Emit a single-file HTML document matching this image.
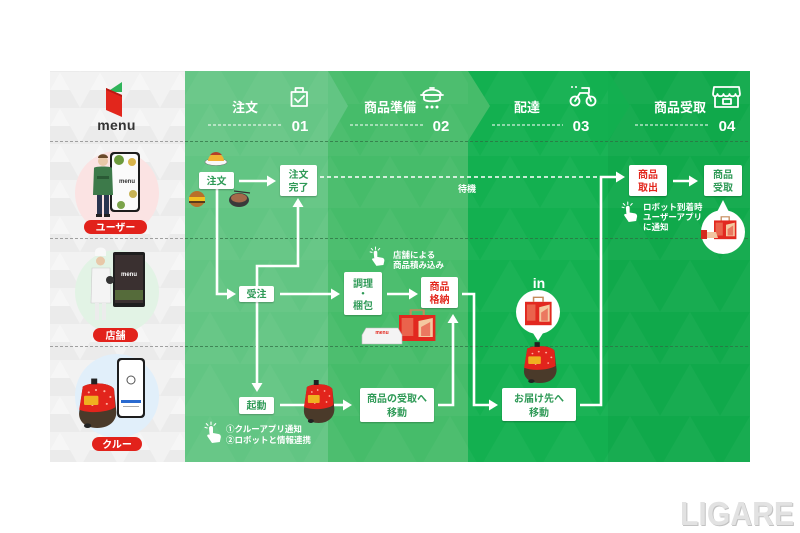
<!DOCTYPE html>
<html><head><meta charset="utf-8">
<style>
html,body{margin:0;padding:0;background:#fff;}
body{width:800px;height:533px;overflow:hidden;}
svg{display:block;}
text{font-family:"Liberation Sans","Noto Sans CJK JP",sans-serif;font-weight:bold;}
</style></head><body>
<svg width="800" height="533" viewBox="0 0 800 533" xmlns="http://www.w3.org/2000/svg">
<defs>
  <pattern id="triL" width="40" height="36" patternUnits="userSpaceOnUse">
    <rect width="40" height="36" fill="#f2f2f2"/>
    <polygon points="0,36 20,0 40,36" fill="#ebebeb"/>
    <polygon points="20,0 30,18 10,18" fill="#f6f6f6"/>
  </pattern>
  <pattern id="triG" width="60" height="52" patternUnits="userSpaceOnUse">
    <polygon points="0,52 30,0 60,52" fill="#ffffff" opacity="0.035"/>
  </pattern>
  <filter id="sh" x="-20%" y="-20%" width="140%" height="150%">
    <feDropShadow dx="0" dy="1" stdDeviation="0.8" flood-color="#000" flood-opacity="0.25"/>
  </filter>
  <g id="hand">
    <path d="M5 4 C6.5 4 7 5 7 6 L7 11 L12.5 12 C14.5 12.5 15 14 14.8 15.5 L13.8 20 L6 21 L1.5 14.5 C0.6 13.3 2 11.8 3.6 12.8 L3 6 C3 5 4 4 5 4 Z" fill="#fff"/>
    <path d="M5 2.6 V0 M2 3.4 L0.3 1.6 M8 3.4 L9.7 1.6 M1.2 6 L-1 5.4" stroke="#fff" stroke-width="1.1" stroke-linecap="round"/>
  </g>
  <g id="bag">
    <path d="M9 2 V-3 H19 V2" fill="none" stroke="#c58a5a" stroke-width="1.6"/>
    <rect x="0" y="2" width="28" height="26" fill="#e2281f"/>
    <rect x="2" y="5" width="9" height="18" fill="#f08a6a" opacity="0.6"/>
    <polygon points="15,8 26,5 26,24 15,24" fill="#f4c9a0"/>
    <polygon points="17,14 24,9 24,23 17,23" fill="#e2281f" opacity="0.5"/>
  </g>
  <g id="robot">
    <path d="M4 4 C10 0 26 0 30 6 L32 26 C32 34 26 40 16 40 C6 40 0 34 1 26 Z" fill="#4a3a2a"/>
    <path d="M4 4 C10 0 26 0 30 6 L31 22 C26 26 10 28 1 24 Z" fill="#e2241c"/>
    <circle cx="9" cy="9" r="0.9" fill="#ffb0a0"/><circle cx="15" cy="7" r="0.9" fill="#ffb0a0"/><circle cx="22" cy="8" r="0.9" fill="#ffb0a0"/>
    <circle cx="27" cy="13" r="0.9" fill="#ffb0a0"/><circle cx="12" cy="20" r="0.9" fill="#ffb0a0"/><circle cx="24" cy="19" r="0.9" fill="#ffb0a0"/>
    <rect x="5" y="12" width="12" height="8" rx="1" fill="#f0b020"/>
    <rect x="11" y="-3" width="5" height="5" fill="#222"/>
    <ellipse cx="8" cy="38" rx="3" ry="2" fill="#222"/>
  </g>
</defs>

<!-- columns -->
<rect x="50" y="71" width="135" height="391" fill="url(#triL)"/>
<rect x="185" y="71" width="143" height="391" fill="#62c583"/>
<rect x="328" y="71" width="140" height="391" fill="#46bc6a"/>
<rect x="468" y="71" width="140" height="391" fill="#13b050"/>
<rect x="608" y="71" width="142" height="391" fill="#10a94b"/>
<rect x="185" y="71" width="565" height="391" fill="url(#triG)"/>
<!-- header chevrons -->
<rect x="185" y="71" width="143" height="70" fill="#ffffff" opacity="0.03"/>
<polygon points="328,71 348,106 328,141" fill="#62c583"/>
<polygon points="468,71 490,106 468,141" fill="#46bc6a"/>
<polygon points="608,71 630,106 608,141" fill="#13b050" opacity="0.8"/>

<!-- separators -->
<g stroke-width="1" stroke-dasharray="3,2">
  <line x1="50" y1="141.5" x2="185" y2="141.5" stroke="#a0a0a0"/>
  <line x1="185" y1="141.5" x2="750" y2="141.5" stroke="#2f6b42" opacity="0.7"/>
  <line x1="50" y1="238.5" x2="185" y2="238.5" stroke="#a0a0a0"/>
  <line x1="185" y1="238.5" x2="750" y2="238.5" stroke="#2f6b42" opacity="0.7"/>
  <line x1="50" y1="346.5" x2="185" y2="346.5" stroke="#a0a0a0"/>
  <line x1="185" y1="346.5" x2="750" y2="346.5" stroke="#2f6b42" opacity="0.7"/>
</g>

<!-- logo -->
<polygon points="107,92 122,82 122,92" fill="#2fb45a"/>
<polygon points="106,88 122,95 122,117 106,110" fill="#e2261c"/>
<polygon points="106,88 122,95 122,97 106,90" fill="#b81a12"/>
<text x="116.5" y="130" font-size="14" fill="#333" text-anchor="middle" font-family="Liberation Sans, sans-serif" letter-spacing="0.3">menu</text>

<!-- header texts -->
<g fill="#fff">
  <text x="245" y="112" font-size="13" text-anchor="middle">注文</text>
  <text x="390" y="112" font-size="13" text-anchor="middle">商品準備</text>
  <text x="527" y="112" font-size="13" text-anchor="middle">配達</text>
  <text x="680" y="112" font-size="13" text-anchor="middle">商品受取</text>
  <text x="300" y="131" font-size="15" text-anchor="middle">01</text>
  <text x="441" y="131" font-size="15" text-anchor="middle">02</text>
  <text x="581" y="131" font-size="15" text-anchor="middle">03</text>
  <text x="727" y="131" font-size="15" text-anchor="middle">04</text>
</g>
<g stroke="#fff" stroke-width="1" stroke-dasharray="3,2">
  <line x1="208" y1="125" x2="283" y2="125"/>
  <line x1="350" y1="125" x2="423" y2="125"/>
  <line x1="492" y1="125" x2="563" y2="125"/>
  <line x1="635" y1="125" x2="708" y2="125"/>
</g>
<!-- header icons -->
<g fill="none" stroke="#fff" stroke-width="1.8" stroke-linejoin="round" stroke-linecap="round">
  <rect x="291.5" y="92" width="15.5" height="14"/>
  <path d="M295.5 92 V88 H303 V92"/>
  <path d="M295 99 L298 102 L304 96"/>
  <!-- pot -->
  <path d="M423 95 C423 88 441 88 441 95 Z"/>
  <path d="M430 88 H434"/>
  <path d="M424 95 V99 C424 102 440 102 440 99 V95"/>
  <path d="M421 95 H443"/>
  <!-- bike -->
  <circle cx="575" cy="101" r="4.5"/>
  <circle cx="591" cy="101" r="4.5"/>
  <path d="M575 101 L580 93 L588 93 L591 101"/>
  <path d="M582 88 H589 V93"/>
  <!-- store -->
  <path d="M714 87 H739 L740 94 C740 97 736 97 735.5 94 C735 97 730 97 729.5 94 C729 97 724 97 723.5 94 C723 97 718 97 717.5 94 C717 97 713 97 713 94 Z"/>
  <path d="M715 97 V107 H738 V97"/>
  <rect x="723" y="99" width="8" height="5"/>
</g>
<g fill="#fff">
  <circle cx="427" cy="107" r="1.5"/><circle cx="432" cy="107" r="1.5"/><circle cx="437" cy="107" r="1.5"/>
  <circle cx="572" cy="87" r="1"/><circle cx="576" cy="87" r="1"/>
</g>

<!-- left lane illustrations -->
<circle cx="117" cy="193" r="42" fill="#fbe3e3"/>
<circle cx="117" cy="292" r="42" fill="#e2f3e5"/>
<circle cx="117" cy="396" r="42" fill="#e1effa"/>
<!-- user -->
<rect x="110" y="152" width="30" height="60" rx="4" fill="#1d1d1d"/>
<rect x="112" y="154" width="26" height="56" rx="3" fill="#fbfbfb"/>
<circle cx="119" cy="160" r="5" fill="#6c9a3c"/><circle cx="132" cy="162" r="4" fill="#d9b44a"/>
<circle cx="133" cy="194" r="4" fill="#c7b255"/><circle cx="121" cy="205" r="4" fill="#7aa34a"/>
<text x="127" y="183" font-size="6" fill="#333" text-anchor="middle" font-family="Liberation Sans, sans-serif">menu</text>
<circle cx="103" cy="161" r="5" fill="#e8c8a8"/>
<path d="M98 158 C98 153 108 153 108 158 Z" fill="#6a4a2a"/>
<path d="M94 168 C94 166 112 166 112 168 L113 195 H93 Z" fill="#3d7a4a"/>
<rect x="97" y="176" width="12" height="3" fill="#2a5a35"/>
<rect x="97" y="195" width="5" height="20" fill="#2a3550"/><rect x="104" y="195" width="5" height="20" fill="#2a3550"/>
<rect x="96" y="214" width="6" height="3" fill="#222"/><rect x="104" y="214" width="6" height="3" fill="#222"/>
<rect x="84" y="220" width="63" height="14" rx="7" fill="#e2221b"/>
<text x="115.5" y="231" font-size="10" fill="#fff" text-anchor="middle">ユーザー</text>
<!-- store -->
<rect x="113" y="252" width="32" height="55" rx="2" fill="#1e1e1e"/>
<rect x="115" y="255" width="28" height="48" fill="#3a3030"/>
<rect x="115" y="290" width="28" height="10" fill="#556b3a"/>
<text x="129" y="276" font-size="6" fill="#fff" text-anchor="middle" font-family="Liberation Sans, sans-serif">menu</text>
<path d="M95 252 C95 246 106 246 106 252 V256 H95 Z" fill="#f8f8f8"/>
<circle cx="100.5" cy="261" r="4.5" fill="#e8c8a8"/>
<path d="M92 268 H110 L111 303 H91 Z" fill="#f4f4f4" stroke="#ccc" stroke-width="0.6"/>
<rect x="95" y="303" width="4" height="17" fill="#ececec"/><rect x="102" y="303" width="4" height="17" fill="#ececec"/>
<circle cx="110" cy="280" r="4" fill="#333"/>
<rect x="93" y="328" width="45" height="14" rx="7" fill="#e2221b"/>
<text x="115.5" y="339" font-size="10" fill="#fff" text-anchor="middle">店舗</text>
<!-- crew -->
<rect x="117" y="358" width="28" height="60" rx="4" fill="#1d1d1d"/>
<rect x="119" y="360" width="24" height="56" rx="3" fill="#fff"/>
<circle cx="131" cy="380" r="4" fill="none" stroke="#555" stroke-width="1"/>
<rect x="121" y="400" width="20" height="3" fill="#2a6ad0"/>
<rect x="123" y="406" width="16" height="1" fill="#aaa"/>
<use href="#robot" transform="translate(78,382) scale(1.2,1.15)"/>
<rect x="92" y="437" width="50" height="14" rx="7" fill="#e2221b"/>
<text x="117" y="448" font-size="10" fill="#fff" text-anchor="middle">クルー</text>

<!-- food icons -->
<ellipse cx="216" cy="162" rx="11" ry="3.5" fill="#f8f8f8" stroke="#777" stroke-width="0.6"/>
<path d="M208 161 C208 151 224 151 224 161 Z" fill="#f1b232"/>
<path d="M210 155 C213 151 219 151 222 155 Z" fill="#b3402a"/>
<circle cx="197" cy="199" r="8" fill="#b8702a"/>
<rect x="189" y="197" width="16" height="4" fill="#f2c020"/>
<rect x="189" y="201" width="16" height="2" fill="#5a3a1a"/>
<ellipse cx="239" cy="200" rx="10" ry="7" fill="#3a3a3a"/>
<ellipse cx="239" cy="198" rx="8" ry="4.5" fill="#a46a4a"/>
<line x1="234" y1="191" x2="250" y2="193" stroke="#333" stroke-width="1.2"/>

<!-- dashed wait line -->
<line x1="320" y1="177" x2="601" y2="177" stroke="#fff" stroke-width="1.5" stroke-dasharray="4,3"/>
<text x="467" y="192" font-size="9" fill="#fff" text-anchor="middle">待機</text>

<!-- connectors -->
<g fill="none" stroke="#fff" stroke-width="2.6" stroke-linejoin="miter">
  <path d="M239 181 H268"/>
  <path d="M217 189 V294 H228"/>
  <path d="M257 286 V266 H298 V206"/>
  <path d="M280 294 H332"/>
  <path d="M387 294 H410"/>
  <path d="M462 294 H474 V405 H490"/>
  <path d="M580 405 H601 V177 H617"/>
  <path d="M673 181 H690"/>
  <path d="M257 302 V384"/>
  <path d="M280 405 H306"/>
  <path d="M334 405 H344"/>
  <path d="M438 405 H453 V322"/>
</g>
<g fill="#fff">
  <polygon points="267,175.5 276,181 267,186.5"/>
  <polygon points="227,288.5 236,294 227,299.5"/>
  <polygon points="292.5,207 298,198 303.5,207"/>
  <polygon points="331,288.5 340,294 331,299.5"/>
  <polygon points="409,288.5 418,294 409,299.5"/>
  <polygon points="489,399.5 498,405 489,410.5"/>
  <polygon points="616,171.5 625,177 616,182.5"/>
  <polygon points="689,175.5 698,181 689,186.5"/>
  <polygon points="251.5,383 257,392 262.5,383"/>
  <polygon points="343,399.5 352,405 343,410.5"/>
  <polygon points="447.5,323 453,314 458.5,323"/>
</g>

<!-- robots in lanes -->
<use href="#robot" transform="translate(303,383) scale(0.98,1.0)"/>
<use href="#robot" transform="translate(523,345) scale(1.05,0.95)"/>

<!-- bubble in delivery -->
<polygon points="531,330 545,330 538,341" fill="#fff"/>
<circle cx="538" cy="312" r="22" fill="#fff"/>
<use href="#bag" transform="translate(525,300) scale(0.95,0.9)"/>
<text x="539" y="288" font-size="14" fill="#fff" text-anchor="middle" font-family="Liberation Sans, sans-serif" font-weight="normal">in</text>

<!-- bag + box under cooking -->
<use href="#bag" transform="translate(399,313) scale(1.3,1.0)"/>
<path d="M362 335 L366 328 H398 L402 335 V344 H362 Z" fill="#f4f4f4" stroke="#bbb" stroke-width="0.6"/>
<text x="382" y="334" font-size="5" fill="#e2261c" text-anchor="middle" font-family="Liberation Sans, sans-serif">menu</text>

<!-- bubble in pickup -->
<polygon points="717,212 729,212 723,200" fill="#fff"/>
<circle cx="723" cy="232" r="22" fill="#fff"/>
<use href="#bag" transform="translate(714,219) scale(0.8,0.72)"/>
<path d="M701 232 H716 L718 238 H701 Z" fill="#f2c4a0"/>
<rect x="701" y="230" width="6" height="9" fill="#d62a1e"/>

<!-- hands + notes -->
<use href="#hand" transform="translate(371,247) scale(0.9)"/>
<text x="393" y="258" font-size="8.5" fill="#fff">店舗による</text>
<text x="393" y="268" font-size="8.5" fill="#fff">商品積み込み</text>
<use href="#hand" transform="translate(623,202) scale(0.95)"/>
<text x="643" y="210" font-size="8.5" fill="#fff">ロボット到着時</text>
<text x="643" y="220" font-size="8.5" fill="#fff">ユーザーアプリ</text>
<text x="643" y="230" font-size="8.5" fill="#fff">に通知</text>
<use href="#hand" transform="translate(206,422) scale(1)"/>
<text x="226" y="432" font-size="8.5" fill="#fff">①クルーアプリ通知</text>
<text x="226" y="443" font-size="8.5" fill="#fff">②ロボットと情報連携</text>

<!-- nodes -->
<g filter="url(#sh)" fill="#fff">
  <rect x="199" y="172" width="35" height="17" rx="2"/>
  <rect x="280" y="165" width="37" height="31" rx="2"/>
  <rect x="239" y="286" width="35" height="16" rx="2"/>
  <rect x="344" y="272" width="38" height="43" rx="2"/>
  <rect x="421" y="277" width="37" height="31" rx="2"/>
  <rect x="239" y="397" width="35" height="17" rx="2"/>
  <rect x="360" y="388" width="74" height="34" rx="2"/>
  <rect x="502" y="388" width="74" height="33" rx="2"/>
  <rect x="629" y="165" width="38" height="31" rx="2"/>
  <rect x="704" y="165" width="38" height="31" rx="2"/>
</g>
<g font-size="10" fill="#2f9a57" text-anchor="middle">
  <text x="216.5" y="184.5">注文</text>
  <text x="298.5" y="178">注文</text>
  <text x="298.5" y="191">完了</text>
  <text x="256.5" y="297.5">受注</text>
  <text x="363" y="287">調理</text>
  <text x="363" y="297">・</text>
  <text x="363" y="309">梱包</text>
  <text x="256.5" y="409">起動</text>
  <text x="397" y="402">商品の受取へ</text>
  <text x="397" y="416">移動</text>
  <text x="539" y="402">お届け先へ</text>
  <text x="539" y="416">移動</text>
  <text x="723" y="178">商品</text>
  <text x="723" y="191">受取</text>
</g>
<g font-size="10" fill="#e2261c" text-anchor="middle">
  <text x="439.5" y="290">商品</text>
  <text x="439.5" y="303">格納</text>
  <text x="648" y="178">商品</text>
  <text x="648" y="191">取出</text>
</g>

<!-- watermark -->
<text x="681" y="526" font-size="33" fill="#9a9a9a" textLength="114" lengthAdjust="spacingAndGlyphs" font-family="Liberation Sans, sans-serif" font-weight="normal" opacity="0.6">LIGARE</text>
<text x="680" y="525" font-size="33" fill="#e2e2e2" textLength="114" lengthAdjust="spacingAndGlyphs" font-family="Liberation Sans, sans-serif" font-weight="normal">LIGARE</text>
</svg>
</body></html>
